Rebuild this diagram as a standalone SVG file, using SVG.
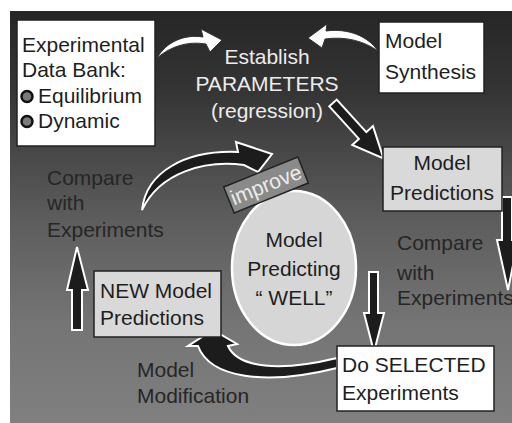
<svg xmlns="http://www.w3.org/2000/svg" width="512" height="423" viewBox="0 0 512 423">
<defs>
<linearGradient id="bg" x1="0" y1="0" x2="0" y2="1">
<stop offset="0" stop-color="#262626"/>
<stop offset="0.2" stop-color="#353535"/>
<stop offset="0.5" stop-color="#5c5c5c"/>
<stop offset="0.75" stop-color="#747474"/>
<stop offset="1" stop-color="#808080"/>
</linearGradient>
<style>
text{font-family:"Liberation Sans",Arial,sans-serif;font-size:21px;fill:#1e1e1e}
.lt{fill:#ececec}
.dk{fill:#262626}
.wbox{fill:#fff;stroke:#222;stroke-width:1.5}
.gbox{fill:#d9d9d9;stroke:#222;stroke-width:1.5}
.blk{fill:#1c1c1c;stroke:#fff;stroke-width:2;stroke-linejoin:miter}
.wht{fill:#fff;stroke:#333;stroke-width:1}
.bul{fill:#7a7a7a;stroke:#111;stroke-width:2.5}
</style>
</defs>
<rect x="10" y="11" width="502" height="412" fill="url(#bg)"/>
<g id="connectors">
<path class="wht" d="M157,58 C166,42 184,34 203,37 L201,29 L222,40 L210,52 L206,44 C188,41 171,46 157,58 Z"/>
<path class="wht" d="M378,51 C368,36 348,28 326,31 L327,24 L308,38 L322,48 L325,39 C345,36 364,41 378,51 Z"/>
<polygon class="blk" points="0,-5 44,-5 44,-14 75,0 44,14 44,5 0,5" transform="translate(333,103) rotate(47.7)"/>
<polygon class="blk" points="502,197 512,197 512,240 518,240 508,290 497,240 502,240"/>
<polygon class="blk" points="369,272 378,272 378,313 384,313 374,352 364,313 369,313"/>
<polygon class="blk" points="72,330 82,330 82,290 88,290 77,247 67,290 72,290"/>
<path class="blk" d="M142,210 C146,172 185,150 238,152 L236,142 L272,154 L258,172 L244,165 C205,160 160,172 142,210 Z"/>
<path class="blk" d="M337,358 C280,372 238,368 228,346 L237,344 L213,330 L188,346 L198,346 C210,378 265,386 337,368 Z"/>
</g>
<g id="databank">
<rect class="wbox" x="17" y="20" width="138" height="126"/>
<text x="22" y="52">Experimental</text>
<text x="22" y="77">Data Bank:</text>
<circle class="bul" cx="27" cy="96.5" r="5.5"/>
<text x="38" y="103">Equilibrium</text>
<circle class="bul" cx="27" cy="121.5" r="5.5"/>
<text x="38" y="128">Dynamic</text>
</g>
<g id="establish">
<text class="lt" x="267" y="64" text-anchor="middle">Establish</text>
<text class="lt" x="267" y="91" text-anchor="middle">PARAMETERS</text>
<text class="lt" x="267" y="118" text-anchor="middle">(regression)</text>
</g>
<g id="synthesis">
<rect class="wbox" x="379" y="22" width="105" height="71"/>
<text x="385" y="48">Model</text>
<text x="385" y="79">Synthesis</text>
</g>
<g id="predictions">
<rect class="gbox" x="383" y="147" width="119" height="64"/>
<text x="442" y="170" text-anchor="middle">Model</text>
<text x="442" y="200" text-anchor="middle">Predictions</text>
</g>
<g id="compare-right">
<text class="dk" x="397" y="250">Compare</text>
<text class="dk" x="397" y="280">with</text>
<text class="dk" x="397" y="305">Experiments</text>
</g>
<g id="compare-left">
<text class="dk" x="47" y="185">Compare</text>
<text class="dk" x="47" y="210">with</text>
<text class="dk" x="47" y="237">Experiments</text>
</g>
<g id="well">
<ellipse cx="294" cy="268" rx="62" ry="77" fill="#d6d6d6" stroke="#fff" stroke-width="2.5"/>
<text x="294" y="247" text-anchor="middle">Model</text>
<text x="294" y="276" text-anchor="middle">Predicting</text>
<text x="294" y="305" text-anchor="middle">“ WELL”</text>
</g>
<g id="improve" transform="translate(266,185) rotate(-22)">
<rect x="-40" y="-14" width="80" height="28" fill="#8a8a8a" stroke="#222" stroke-width="1.5"/>
<text class="lt" x="0" y="7" text-anchor="middle">improve</text>
</g>
<g id="new-predictions">
<rect class="gbox" x="94" y="271" width="127" height="66"/>
<text x="100" y="298">NEW Model</text>
<text x="100" y="325">Predictions</text>
</g>
<g id="modification">
<text class="dk" x="137" y="377">Model</text>
<text class="dk" x="137" y="403">Modification</text>
</g>
<g id="selected">
<rect class="wbox" x="337" y="346" width="157" height="65"/>
<text x="342" y="372">Do SELECTED</text>
<text x="342" y="400">Experiments</text>
</g>
</svg>
